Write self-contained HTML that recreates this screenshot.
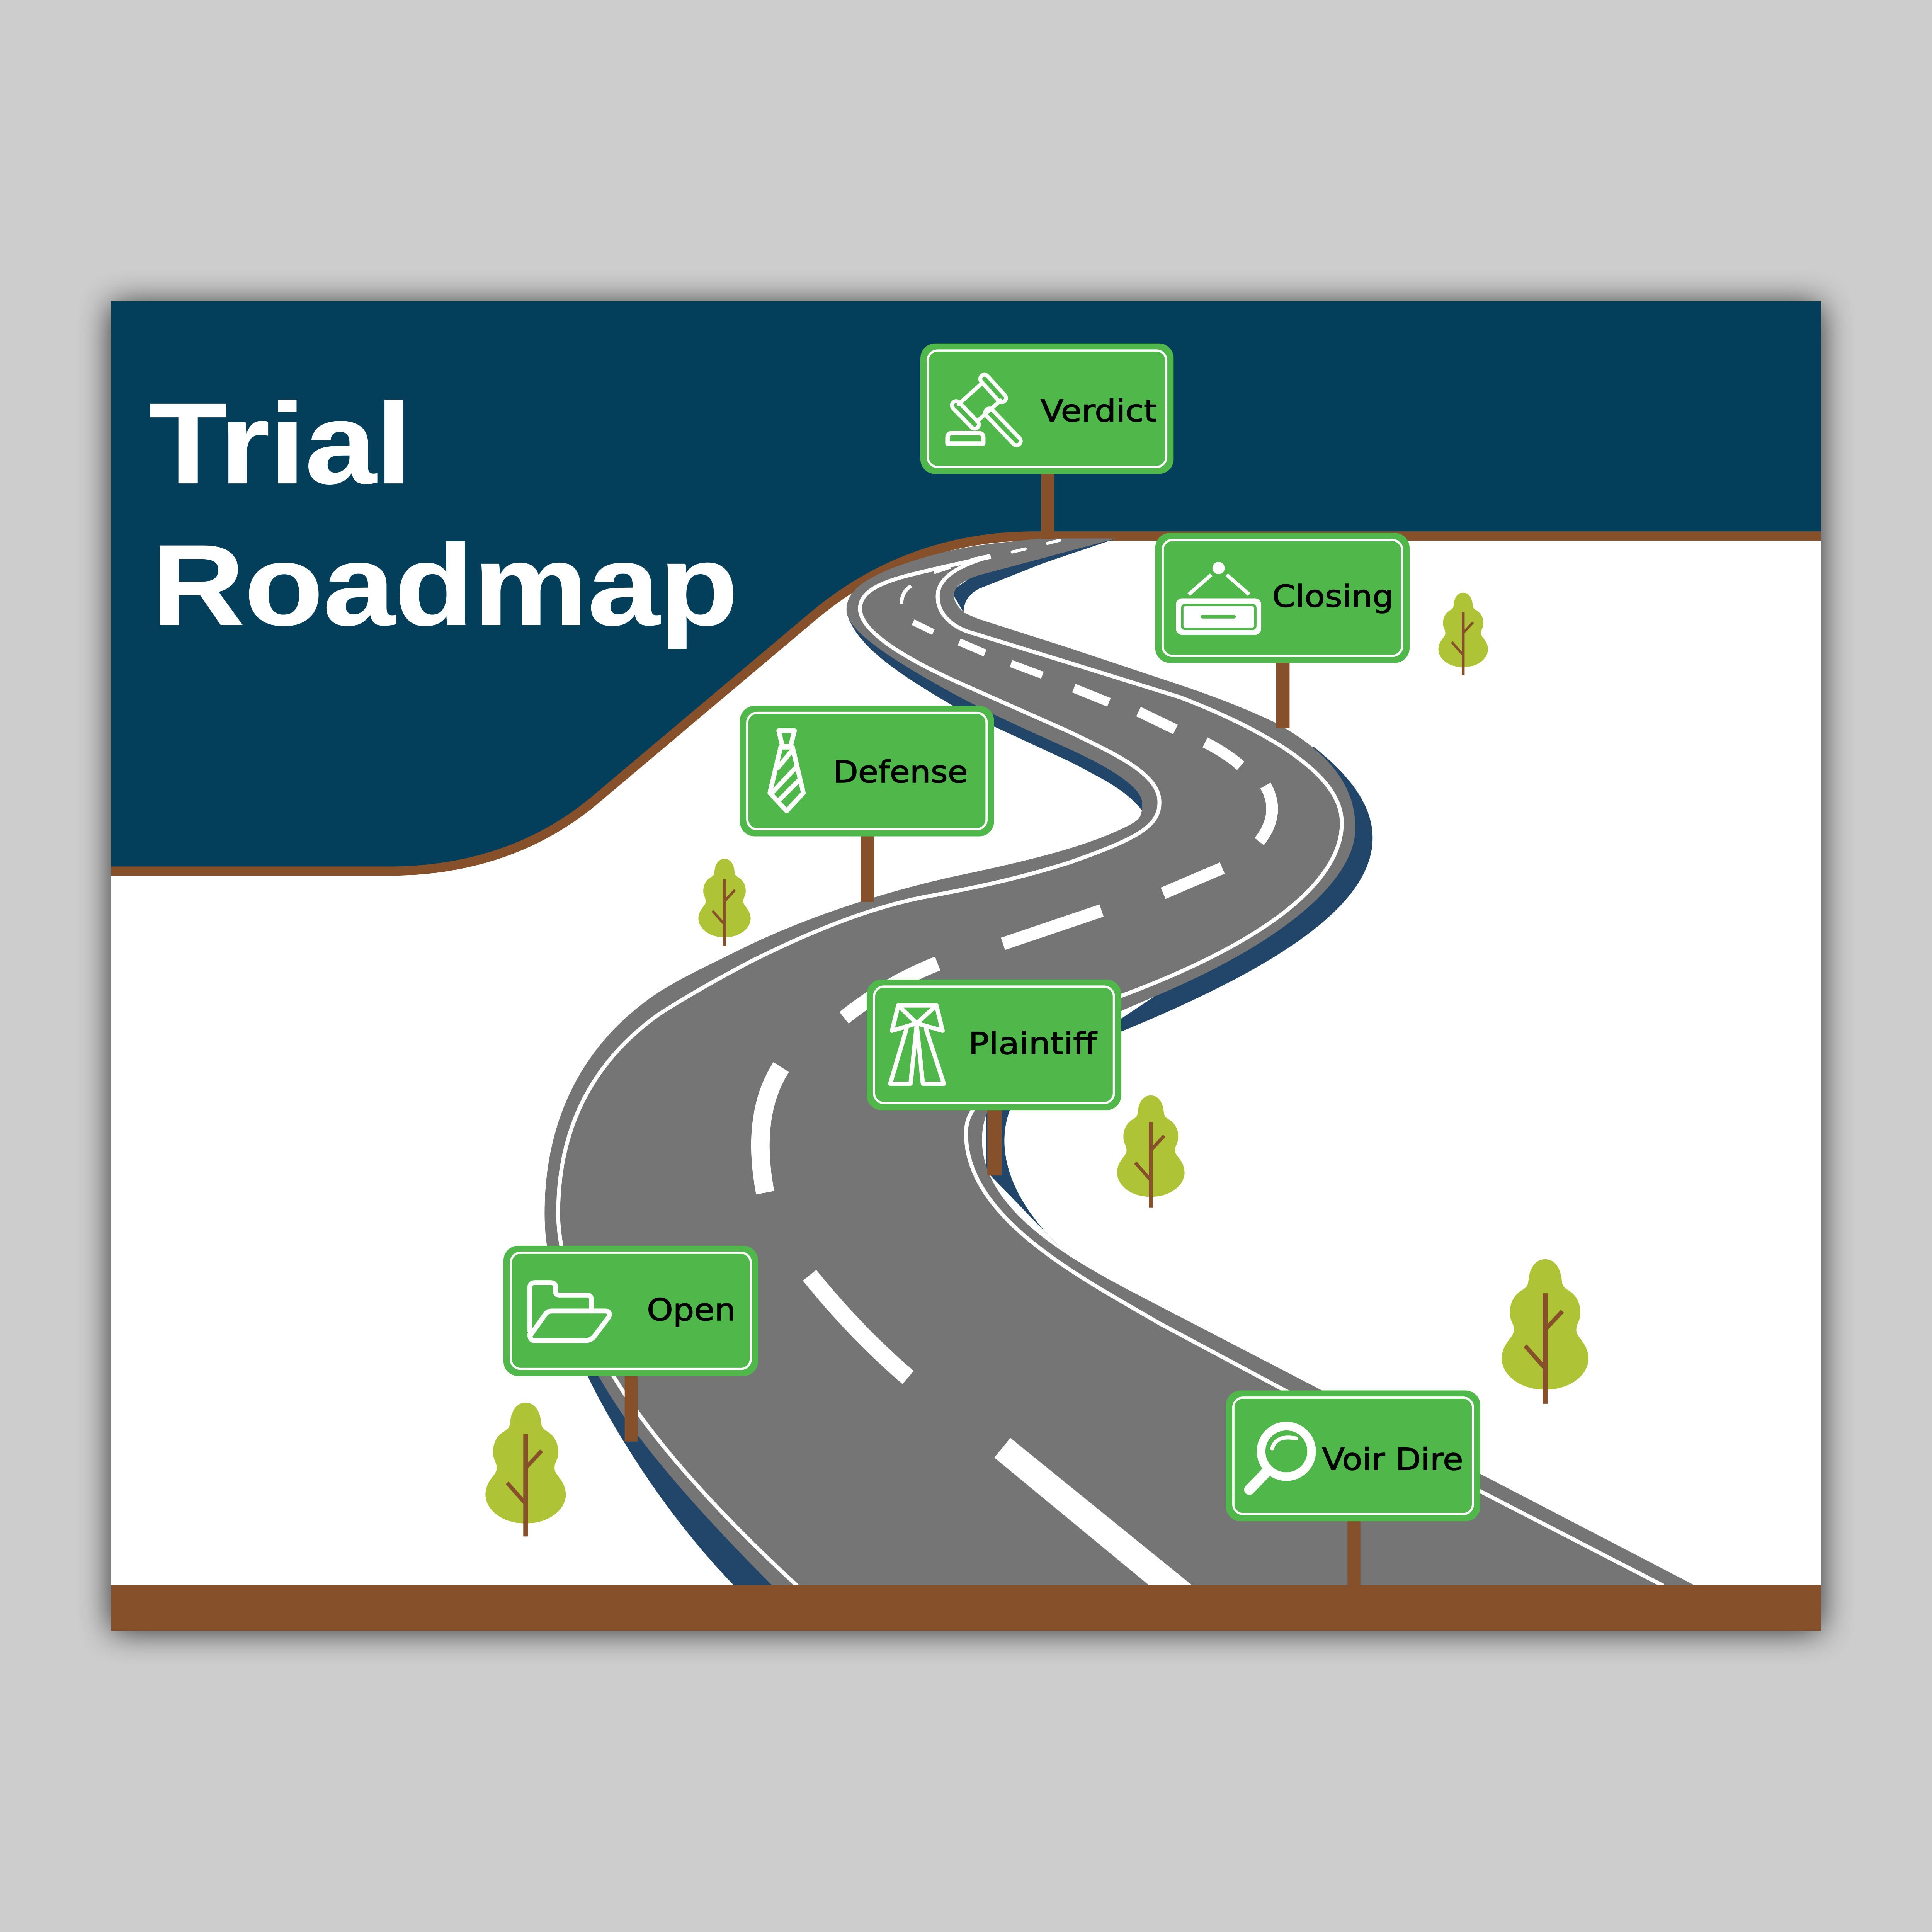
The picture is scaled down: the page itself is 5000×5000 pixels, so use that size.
<!DOCTYPE html>
<html><head><meta charset="utf-8"><title>Trial Roadmap</title>
<style>html,body{margin:0;padding:0;background:#cdcdcd}svg{display:block}</style></head>
<body>
<svg xmlns="http://www.w3.org/2000/svg" width="5000" height="5000" viewBox="0 0 1568 1568">
<defs>
<filter id="sh" x="-10%" y="-10%" width="120%" height="120%"><feGaussianBlur stdDeviation="13"/></filter>
<g id="tree">
<path fill="#aec335" d="M0 0C8 0 12 8 12.500 16C13 20 14 21 17 23C24 27 27 34 26.400 42C26 47 23 49 23.500 54C24 59 32 63 32.600 74C33 86 20 98 0 98C-20 98 -33 86 -32.600 74C-32 63 -24 59 -23.500 54C-23 49 -26 47 -26.400 42C-27 34 -24 27 -17 23C-14 21 -13 20 -12.500 16C-12 8 -8 0 0 0Z"/>
<path stroke="#85502a" fill="none" stroke-width="3.800" d="M0 25.600V108.600"/>
<path stroke="#85502a" fill="none" stroke-width="3.200" d="M0 53L13 39M0 82L-15 65"/>
</g>
</defs>
<rect width="1568" height="1568" fill="#cdcdcd"/>
<rect x="90.300" y="247" width="1387.500" height="1076.500" fill="#000" opacity=".8" filter="url(#sh)"/>
<rect x="90.300" y="244.600" width="1387.500" height="1079" fill="#fff"/>
<path fill="#033e5b" d="M90.300 244.600H1477.800V435H840C770 435 710 458 660 500L482 650C440 685 385 707 315 707H90.300Z"/>
<path fill="none" stroke="#85502a" stroke-width="7.500" d="M90.300 707H315C385 707 440 685 482 650L660 500C710 458 770 435 840 435H1477.800"/>

<!-- blue road shadows -->
<g fill="#21466a">
<path d="M906 437L847 457L794 478Q782 485 782 497L772 480L800 460Z"/>
<path d="M1066 606C1090 625 1114 650 1114 680C1114 730 1050 780 908 838L880 850L820 900C810 925 812 965 860 1012L800 950L800 900L950 800Z"/>
<path d="M687 497C695 525 730 548 786 580L868 618C895 632 915 642 927 658L930 640L868 600L700 500Z"/>
<path d="M477 1117C500 1165 545 1235 596 1287L640 1287L500 1117Z"/>
</g>

<!-- road -->
<path fill="#757576" d="M906 437L845 437L811.500 440.500Q778 444 748 453C705 466 687 478 687 495C687 510 715 530 763 557Q793 574 830.500 591L868 608C905 625 927 640 927 652C927 663 925 665 916 670C880 688 835 698 790 708C720 722 650 746 600 771C570 786 545 797 525 812C480 845 442 900 442 985C442 1025 455 1065 486 1117C515 1170 575 1235 627 1287L1376 1287L1201 1196L1072 1128L941 1060C890 1033 797 990 797 925C797 915 799 908 802 901L860 845L911 820L941 807C1040 765 1100 715 1100 672C1100 635 1075 608 1034 586Q1000 570 958 556L868 526L793 502L782 497C770 485 770 475 794 467Z"/>

<!-- edge lines -->
<g fill="none" stroke="#fff" stroke-width="3.200">
<path d="M802 452L780 457Q757 462 737 467C710 474 698 482 698 494C698 510 725 530 778 554L868 594C905 612 941 628 941 651C941 670 925 680 868 700C830 712 795 720 750 728C700 738 650 760 610 780C585 793 560 807 535 823C490 855 453 905 453 985C453 1020 470 1070 498 1117C530 1170 585 1230 647 1287"/>
<path d="M802 452C775 460 761 470 761 484C761 500 775 510 790 514L868 538L958 566Q1005 584 1039 605C1070 625 1089 645 1089 668C1089 710 1040 760 908 809L860 840L790 900C787 905 784 910 784 920C784 990 880 1038 941 1074L1042 1128L1350 1287"/>
</g>

<!-- centre dashes -->
<g fill="none" stroke="#fff">
<path stroke-width="2.500" stroke-linecap="round" d="M850 441L860 438.500M821.500 448L832 445.500"/>
<path stroke-width="4" d="M788 455L804 451.500"/>
<path stroke-width="3" d="M758 464.500L771.500 460M739.500 475.500Q732 480 731.500 490"/>
<path stroke-width="5" d="M741 505L757.500 513"/>
<path stroke-width="6" d="M778.500 521L799.500 530M820.500 538.500L846 548"/>
<path stroke-width="7.500" d="M871.500 558.500L900 570"/>
<path stroke-width="8.500" d="M924 577.500L954 592"/>
<path stroke-width="9" d="M978 602.500Q995 611 1007 621.500"/>
<path stroke-width="9.500" d="M1027 637.500Q1040 660 1022 683"/>
<path stroke-width="10" d="M944 725L992 704.500"/>
<path stroke-width="10.500" d="M814 766L894 739"/>
<path stroke-width="12" d="M685 826Q720 798 761 782"/>
<path stroke-width="15" d="M634 866Q609 905 621 968"/>
<path stroke-width="14" d="M657 1035Q695 1082 737 1118"/>
</g>
<polygon fill="#fff" points="820,1167 807,1183 933,1287 968,1287"/>

<rect x="90.300" y="1286.500" width="1387.500" height="37" fill="#85502a"/>

<!-- posts -->
<g fill="#85502a">
<rect x="845" y="380" width="10.600" height="57.500"/>
<rect x="1035.600" y="530" width="11" height="61"/>
<rect x="698.700" y="670" width="10.600" height="62"/>
<rect x="801.300" y="895" width="11.600" height="59"/>
<rect x="507" y="1110" width="10.500" height="60"/>
<rect x="1093.600" y="1225" width="10.500" height="62"/>
</g>

<!-- signs -->
<g fill="#50b84b">
<rect x="747" y="278.700" width="205.500" height="106" rx="12"/>
<rect x="937.600" y="432.500" width="206.400" height="105.500" rx="12"/>
<rect x="600.500" y="572.800" width="206.200" height="106" rx="12"/>
<rect x="703.400" y="795" width="206.600" height="106" rx="12"/>
<rect x="408.600" y="1011" width="206.700" height="105.800" rx="12"/>
<rect x="995" y="1128.500" width="206.400" height="106.200" rx="12"/>
</g>
<g fill="none" stroke="#fff" stroke-width="1.800">
<rect x="753" y="284.500" width="193.500" height="94.500" rx="8"/>
<rect x="943.600" y="438.300" width="194.400" height="94" rx="8"/>
<rect x="606.500" y="578.500" width="194.200" height="94.500" rx="8"/>
<rect x="709.400" y="800.700" width="194.600" height="94.500" rx="8"/>
<rect x="414.600" y="1016.700" width="194.700" height="94.300" rx="8"/>
<rect x="1001" y="1134.300" width="194.400" height="94.500" rx="8"/>
</g>

<!-- gavel -->
<g fill="none" stroke-linecap="round" stroke-linejoin="round">
<path stroke="#fff" stroke-width="10" d="M799 307.500L813 323M776 329L791 344.500M803 335L825 358"/>
<path stroke="#50b84b" stroke-width="3.600" d="M799 307.500L813 323M776 329L791 344.500M803 335L825 358"/>
<path stroke="#fff" stroke-width="3.200" d="M797 311L778 328M812 325L793 342"/>
<path stroke="#fff" stroke-width="3.600" d="M769 360L769 355Q769 351.500 773 351.500L794 351.500Q798 351.500 798 355L798 360Z"/>
</g>

<!-- hanging sign -->
<circle cx="989" cy="461" r="5" fill="#fff"/>
<path stroke="#fff" stroke-width="3" fill="none" d="M983 466.500L964.800 482.500M995.600 466.500L1013.800 482.500"/>
<rect x="954.400" y="485.600" width="69.200" height="29.700" rx="5" fill="#fff"/>
<rect x="959.500" y="491" width="59.300" height="19.400" rx="2.500" fill="#fff" stroke="#50b84b" stroke-width="2"/>
<path stroke="#50b84b" stroke-width="3" stroke-linecap="round" d="M976 500.500H1001.500"/>

<!-- tie -->
<g fill="none" stroke="#fff" stroke-width="3.800" stroke-linejoin="round" stroke-linecap="round">
<path d="M632 593L644.800 593L641.600 605.700L635 605.700Z"/>
<path d="M633.600 606.400L624.800 643.500L638.400 658.200L652 643.500L643.200 606.400Z"/>
<path d="M641.600 610.600L631.200 623.200M645.600 623.200L627.200 642.800M648 633.700L632 649.800"/>
</g>

<!-- gown -->
<g fill="none" stroke="#fff" stroke-width="3.500" stroke-linejoin="round" stroke-linecap="round">
<path d="M729 816L760 816L765 836.500L744 830.500L724 836.500Z"/>
<path d="M729 816L744 830.500L760 816"/>
<path d="M735.700 835L722.500 879.500L739 879.500L744 832L749 879.500L766 879.500L751.500 835"/>
</g>

<!-- folder -->
<g fill="none" stroke="#fff" stroke-width="4" stroke-linejoin="round" stroke-linecap="round">
<path d="M430 1080L430 1045Q430 1041 434 1041L447 1041Q451 1041 451 1045L451 1049Q451 1051 454 1051L476 1051Q480 1051 480 1055L480 1064"/>
<path d="M431 1083L443 1066Q445 1064 448 1064L491 1064Q496 1064 494 1069L482 1085Q479 1088 475 1088L434 1088Q430 1088 430 1083Z"/>
</g>

<!-- magnifier -->
<g fill="none" stroke="#fff" stroke-linecap="round">
<circle cx="1044" cy="1177.900" r="20.500" stroke-width="7"/>
<path stroke-width="8.500" d="M1027 1195.500L1014 1209"/>
<path stroke-width="3.200" d="M1032.500 1175.500Q1036 1164 1052 1167.500"/>
</g>

<!-- trees -->
<use href="#tree" transform="translate(426.600 1138.400)"/>
<use href="#tree" transform="translate(1254 1022) scale(1.080)"/>
<use href="#tree" transform="translate(934 889) scale(.84)"/>
<use href="#tree" transform="translate(588 697) scale(.65)"/>
<use href="#tree" transform="translate(1187.500 481) scale(.617)"/>

<!-- text -->
<g font-family="'Liberation Sans',sans-serif" font-weight="700" font-size="93" fill="#fff" stroke="#fff" stroke-width=".7">
<text x="121" y="392" textLength="213" lengthAdjust="spacingAndGlyphs">Trial</text>
<text x="123" y="507" textLength="476" lengthAdjust="spacingAndGlyphs">Roadmap</text>
</g>
<g font-family="'DejaVu Sans',sans-serif" font-size="24.500" fill="#000" stroke="#000" stroke-width=".5">
<text x="844.500" y="342" textLength="94.500" lengthAdjust="spacingAndGlyphs">Verdict</text>
<text x="1032.500" y="492.500" textLength="98.500" lengthAdjust="spacingAndGlyphs">Closing</text>
<text x="676" y="635" textLength="109.500" lengthAdjust="spacingAndGlyphs">Defense</text>
<text x="786" y="855.500" textLength="104" lengthAdjust="spacingAndGlyphs">Plaintiff</text>
<text x="525" y="1071.500" textLength="72" lengthAdjust="spacingAndGlyphs">Open</text>
<text x="1073" y="1193" textLength="114.500" lengthAdjust="spacingAndGlyphs">Voir Dire</text>
</g>
</svg>
</body></html>
